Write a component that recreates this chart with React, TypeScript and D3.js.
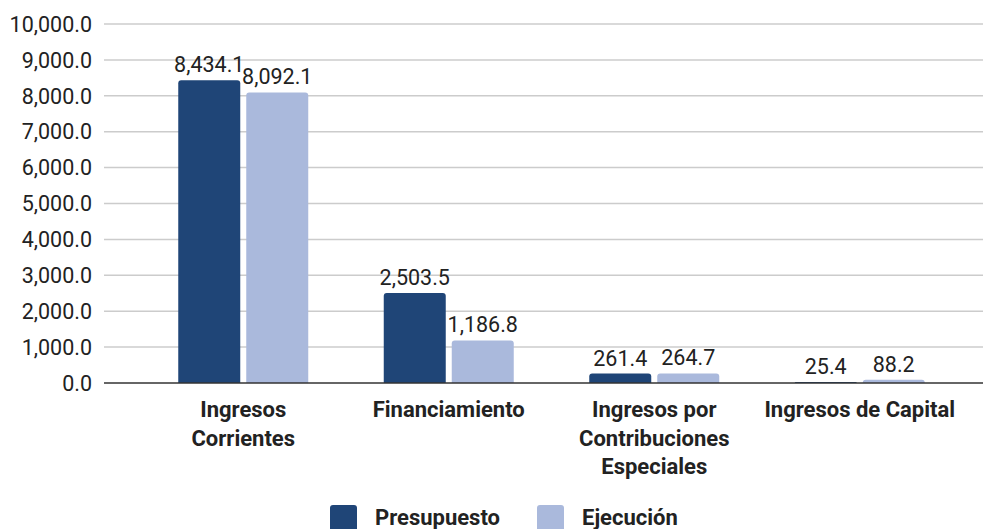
import React from "react";
import * as d3 from "d3";

const categories: string[][] = [
  ["Ingresos", "Corrientes"],
  ["Financiamiento"],
  ["Ingresos por", "Contribuciones", "Especiales"],
  ["Ingresos de Capital"],
];
const seriesNames = ["Presupuesto", "Ejecución"];
const presupuesto = [8434.1, 2503.5, 261.4, 25.4];
const ejecucion = [8092.1, 1186.8, 264.7, 88.2];
const yTicks = [0, 1000, 2000, 3000, 4000, 5000, 6000, 7000, 8000, 9000, 10000];
const colors = ["#1f4577", "#aab9dc"];

const W = 983;
const H = 529;
const FONT = "Roboto, 'Noto Sans', sans-serif";

function barPath(x: number, y: number, w: number, h: number, r: number) {
  const rr = Math.min(r, h, w / 2);
  if (h <= 0) return "";
  return `M${x},${y + h} L${x},${y + rr} Q${x},${y} ${x + rr},${y} L${x + w - rr},${y} Q${x + w},${y} ${x + w},${y + rr} L${x + w},${y + h} Z`;
}

export default function App() {
  const y = d3.scaleLinear().domain([0, 10000]).range([383, 24]);
  const x0 = d3
    .scaleBand<number>()
    .domain(categories.map((_, i) => i))
    .range([140.5, 962.5])
    .paddingInner(0)
    .paddingOuter(0);
  const bw0 = x0.bandwidth();
  const x1 = d3
    .scaleBand<number>()
    .domain([0, 1])
    .range([bw0 / 2 - 65, bw0 / 2 + 65])
    .paddingInner(6 / 68)
    .paddingOuter(0);
  const fmt = d3.format(",.1f");
  const series = [presupuesto, ejecucion];

  return (
    <svg width={W} height={H} style={{ position: "absolute", left: 0, top: 0 }} fontFamily={FONT}>
      <rect width={W} height={H} fill="#fff" />
      {yTicks.map((t) => (
        <g key={t}>
          {t !== 0 && (
            <line x1={104} x2={983} y1={y(t)} y2={y(t)} stroke="#cccccc" strokeWidth={1.5} />
          )}
          <text x={92} y={y(t)} dy="0.36em" textAnchor="end" fontSize={21.5} fill="#222">
            {fmt(t)}
          </text>
        </g>
      ))}
      {categories.map((_, ci) =>
        series.map((s, si) => {
          const bx = (x0(ci) as number) + (x1(si) as number);
          const bw = x1.bandwidth();
          const by = y(s[ci]);
          return (
            <g key={`${ci}-${si}`}>
              <path d={barPath(bx, by, bw, y(0) - by, 3)} fill={colors[si]} />
              <text
                x={bx + bw / 2}
                y={by - 8}
                textAnchor="middle"
                fontSize={21.5}
                fill="#222"
              >
                {fmt(s[ci])}
              </text>
            </g>
          );
        })
      )}
      <line x1={104} x2={983} y1={y(0)} y2={y(0)} stroke="#333" strokeWidth={1.5} />
      {categories.map((lines, ci) => (
        <text
          key={ci}
          x={(x0(ci) as number) + x0.bandwidth() / 2}
          textAnchor="middle"
          fontSize={22}
          fontWeight="bold"
          fill="#222"
        >
          {lines.map((l, li) => (
            <tspan key={li} x={(x0(ci) as number) + x0.bandwidth() / 2} y={417 + li * 28.5}>
              {l}
            </tspan>
          ))}
        </text>
      ))}
      {seriesNames.map((n, i) => {
        const lx = [330, 537][i];
        return (
          <g key={n}>
            <rect x={lx} y={505} width={27} height={27} rx={3} fill={colors[i]} />
            <text x={lx + 45} y={525} fontSize={22} fontWeight="bold" fill="#222">
              {n}
            </text>
          </g>
        );
      })}
    </svg>
  );
}
